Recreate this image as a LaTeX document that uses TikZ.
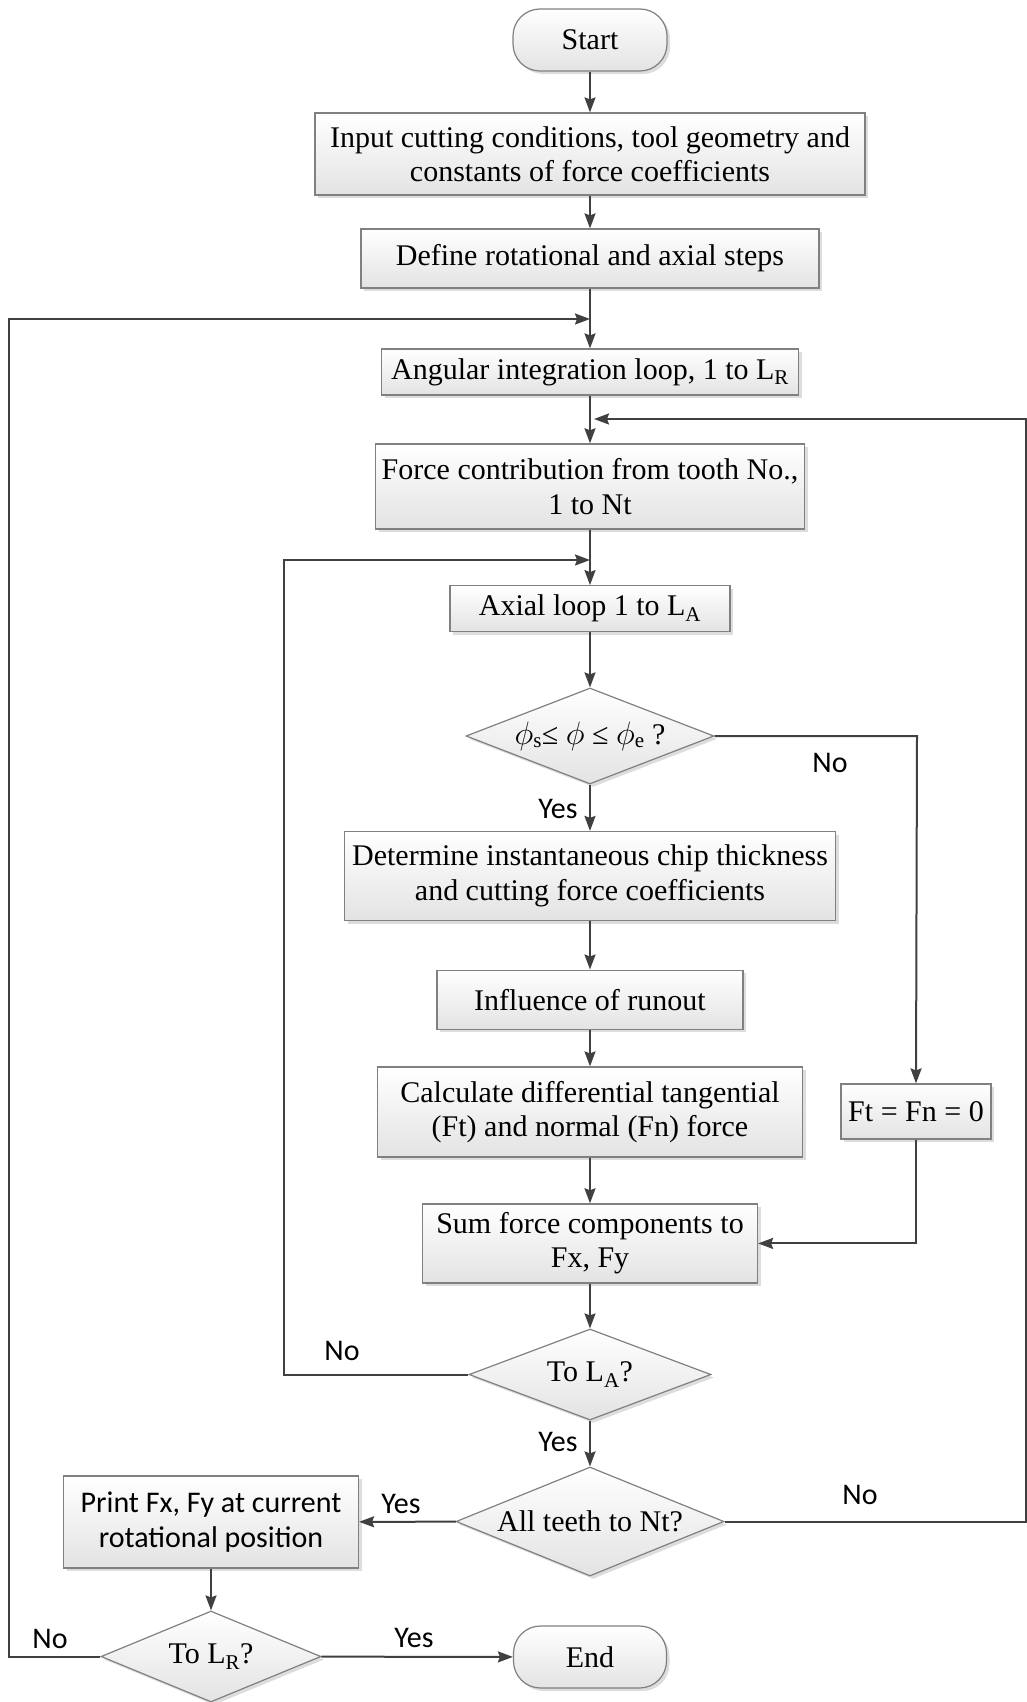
\documentclass[tikz,border=0pt]{standalone}
\usepackage{fontspec}
\usepackage{graphicx}
\setmainfont{Liberation Serif}
\newfontfamily\calfont{Carlito}
\usetikzlibrary{shapes.geometric,shapes.misc,shadows,arrows.meta}
\definecolor{linec}{HTML}{404040}
\definecolor{boxb}{HTML}{808080}
\newcommand{\bigphi}{\scalebox{1.3}{\(\phi\)}}
\tikzset{
  base/.style={inner sep=0pt, align=center, draw=boxb, line width=1.2pt,
    top color=white, bottom color=gray!22,
    drop shadow={shadow xshift=3pt, shadow yshift=-3pt, fill=gray!45, opacity=0.6},
    font=\fontsize{30}{34.5}\selectfont},
  proc/.style={base, rectangle},
  term/.style={base, rectangle, rounded corners=27pt},
  dec/.style={base, diamond, aspect=2.5},
  lbl/.style={font=\calfont\fontsize{30}{34}\selectfont, inner sep=0pt},
  conn/.style={draw=linec, line width=2pt},
  arr/.style={conn, -{Stealth[length=15pt,width=11pt,inset=2pt]}},
}
\begin{document}
\begin{tikzpicture}[x=1pt,y=-1pt]
\useasboundingbox (0,0) rectangle (1027,1702);
% nodes
\node[term, minimum width=154pt, minimum height=62pt] (start) at (590,40) {Start};
\node[proc, minimum width=550pt, minimum height=82pt] (input) at (590,154) {Input cutting conditions, tool geometry and\\constants of force coefficients};
\node[proc, minimum width=458pt, minimum height=59pt] (define) at (590,258.5) {Define rotational and axial steps};
\node[proc, minimum width=417pt, minimum height=46pt] (ang) at (590,372) {Angular integration loop, 1 to L\textsubscript{R}};
\node[proc, minimum width=429pt, minimum height=85pt] (force) at (590,486.4) {Force contribution from tooth No.,\\1 to Nt};
\node[proc, minimum width=280pt, minimum height=46pt] (axial) at (590,608.7) {Axial loop 1 to L\textsubscript{A}};
\node[dec, minimum width=248pt, minimum height=96pt,
  label={[font=\fontsize{30}{34.5}\selectfont]center:\bigphi\textsubscript{s}≤ \bigphi{} ≤ \bigphi\textsubscript{e} ?}] (d1) at (590,736) {};
\node[proc, minimum width=491pt, minimum height=89pt] (det) at (590,876) {Determine instantaneous chip thickness\\and cutting force coefficients};
\node[proc, minimum width=306pt, minimum height=59pt] (infl) at (590,999.6) {Influence of runout};
\node[proc, minimum width=425pt, minimum height=90pt] (calc) at (590,1112) {Calculate differential tangential\\(Ft) and normal (Fn) force};
\node[proc, minimum width=150pt, minimum height=55pt] (ft) at (916,1111.5) {Ft = Fn = 0};
\node[proc, minimum width=335pt, minimum height=79pt] (sum) at (590,1243.4) {Sum force components to\\Fx, Fy};
\node[dec, minimum width=242pt, minimum height=91pt,
  label={[font=\fontsize{30}{34.5}\selectfont]center:To L\textsubscript{A}?}] (d2) at (590,1374.5) {};
\node[dec, minimum width=268pt, minimum height=109pt,
  label={[font=\fontsize{30}{34.5}\selectfont]center:All teeth to Nt?}] (d3) at (590,1521.5) {};
\node[proc, minimum width=295pt, minimum height=92pt, font=\calfont\fontsize{30}{35}\selectfont] (print) at (211,1522) {Print Fx, Fy at current\\rotational position};
\node[dec, minimum width=220pt, minimum height=91pt,
  label={[font=\fontsize{30}{34.5}\selectfont]center:To L\textsubscript{R}?}] (d4) at (211,1656.5) {};
\node[term, minimum width=153pt, minimum height=62pt] (end) at (590,1657) {End};
% junction coordinates
\coordinate (j1) at (590,319);
\coordinate (j1l) at (8.5,319);
\coordinate (j2) at (594,419);
\coordinate (j2r) at (1026,419);
\coordinate (j3) at (590,560);
\coordinate (j3l) at (284,560);
\coordinate (j4) at (917,736);
\coordinate (j5) at (916,1243.4);
% connectors
\draw[arr] (start) -- (input);
\draw[arr] (input) -- (define);
\draw[arr] (define) -- (ang);
\draw[arr] (d4.west) -- (d4.west -| j1l) -- (j1l) -- (j1);
\draw[arr] (ang) -- (force);
\draw[arr] (d3.east) -- (d3.east -| j2r) -- (j2r) -- (j2);
\draw[arr] (force) -- (axial);
\draw[arr] (d2.west) -- (d2.west -| j3l) -- (j3l) -- (j3);
\draw[arr] (axial) -- (d1);
\draw[arr] (d1) -- (det);
\draw[arr] (d1.east) -- (j4) -- (ft.north);
\draw[arr] (det) -- (infl);
\draw[arr] (infl) -- (calc);
\draw[arr] (calc) -- (sum);
\draw[arr] (ft.south) -- (j5) -- (sum.east);
\draw[arr] (sum) -- (d2);
\draw[arr] (d2) -- (d3);
\draw[arr] (d3) -- (print);
\draw[arr] (print) -- (d4);
\draw[arr] (d4) -- (end);
% labels
\node[lbl] (l1) at (830,763) {No};
\node[lbl] (l2) at (558,809) {Yes};
\node[lbl] (l3) at (342,1351) {No};
\node[lbl] (l4) at (558,1442) {Yes};
\node[lbl] (l5) at (401,1504) {Yes};
\node[lbl] (l6) at (860,1495) {No};
\node[lbl] (l7) at (50,1639) {No};
\node[lbl] (l8) at (414,1638) {Yes};
\end{tikzpicture}
\end{document}
